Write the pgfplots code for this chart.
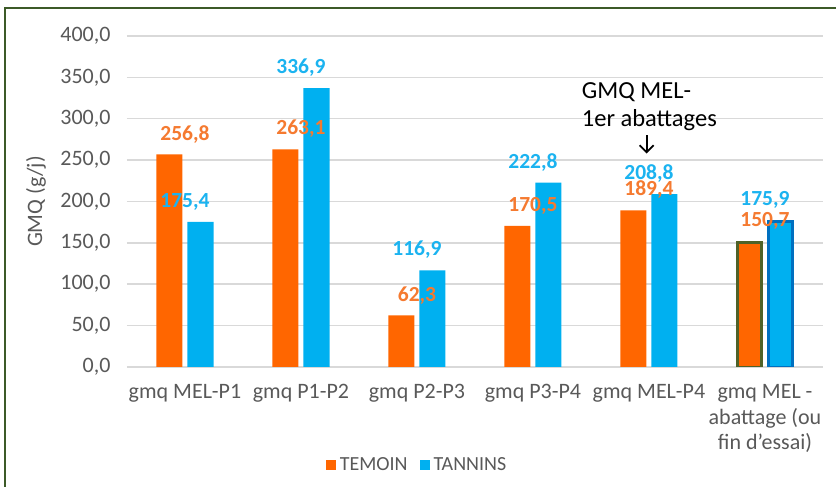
\documentclass[border=0pt]{standalone}
\usepackage{fontspec}
\setmainfont{Carlito}
\usepackage{pgfplots}
\pgfplotsset{compat=1.18}
\usetikzlibrary{arrows.meta}

\definecolor{temoin}{HTML}{FF6600}
\definecolor{tannins}{HTML}{00B0F0}
\definecolor{temoinlbl}{HTML}{F57A30}
\definecolor{tanninslbl}{HTML}{1BB3F0}
\definecolor{frame}{HTML}{3C5A28}
\definecolor{gridgray}{HTML}{D9D9D9}
\definecolor{ticktext}{HTML}{595959}
\definecolor{olive}{HTML}{4F6228}
\definecolor{edgeblue}{HTML}{0070C0}

\pgfplotsset{/pgf/number format/.cd, fixed, fixed zerofill, precision=1,
  use comma, assume math mode=true}

\begin{document}
\begin{tikzpicture}
\path[use as bounding box, fill=white] (0,0) rectangle (836pt,487pt);
\draw[frame, line width=2.5pt] (5pt,-2pt) -- (5pt,479pt) -- (838pt,479pt);
\begin{axis}[
  at={(127pt,120pt)}, anchor=south west,
  scale only axis, width=696pt, height=331pt,
  ymin=0, ymax=400, ytick={0,50,...,400},
  xmin=-0.5, xmax=5.5, xtick={0,...,5},
  xticklabels={gmq MEL-P1, gmq P1-P2, gmq P2-P3, gmq P3-P4, gmq MEL-P4,
    {gmq MEL -\\abattage (ou\\fin d’essai)}},
  axis line style={draw=none},
  major tick length=0pt,
  ymajorgrids, grid style={gridgray, line width=1.5pt},
  ticklabel style={font=\fontsize{22}{25.5}\selectfont, text=ticktext},
  yticklabel style={anchor=east, xshift=-13pt},
  xticklabel style={align=center, anchor=north, yshift=-14pt},
  ylabel={GMQ (g/j)},
  every axis y label/.style={at={(rel axis cs:0,0.5)}, xshift=-91pt,
    rotate=90, anchor=center, font=\fontsize{22}{24}\selectfont, text=ticktext},
  every node near coord/.append style={font=\bfseries\fontsize{21.5}{24}\selectfont,
    yshift=8pt},
  legend style={at={(0.4167,-0.296)}, anchor=center, draw=none,
    legend columns=-1, font=\fontsize{20}{24}\selectfont, text=ticktext,
    /tikz/every odd column/.append style={column sep=2pt},
    /tikz/every even column/.append style={column sep=10pt}},
]
\addplot[ybar, bar width=26pt, bar shift=-15.5pt, fill=temoin, draw=none,
  legend image code/.code={\fill[temoin] (0pt,-5pt) rectangle (10pt,5pt);},
  nodes near coords, every node near coord/.append style={text=temoinlbl}]
  coordinates {(0,256.8) (1,263.1) (2,62.3) (3,170.5) (4,189.4)};
\addlegendentry{TEMOIN}
\addplot[ybar, bar width=26pt, bar shift=15.5pt, fill=tannins, draw=none,
  legend image code/.code={\fill[tannins] (0pt,-5pt) rectangle (10pt,5pt);},
  nodes near coords, every node near coord/.append style={text=tanninslbl}]
  coordinates {(0,175.4) (1,336.9) (2,116.9) (3,222.8) (4,208.8)};
\addlegendentry{TANNINS}
\addplot[ybar, bar width=24pt, bar shift=15.5pt, fill=tannins, draw=edgeblue,
  line width=2.5pt, forget plot,
  nodes near coords, every node near coord/.append style={text=tanninslbl}]
  coordinates {(5,175.9)};
\addplot[ybar, bar width=24pt, bar shift=-15.5pt, fill=temoin, draw=olive,
  line width=2.5pt, forget plot,
  nodes near coords, every node near coord/.append style={text=temoinlbl}]
  coordinates {(5,150.7)};
\node[anchor=west, align=left, inner sep=0pt, font=\fontsize{24.5}{28}\selectfont]
  at (axis cs:3.42,315) {GMQ MEL-\\1er abattages};
\draw[-{Straight Barb[length=7pt,width=14pt]}, line width=1.8pt]
  (axis cs:3.98,280) -- (axis cs:3.98,258);
\end{axis}
\end{tikzpicture}
\end{document}
